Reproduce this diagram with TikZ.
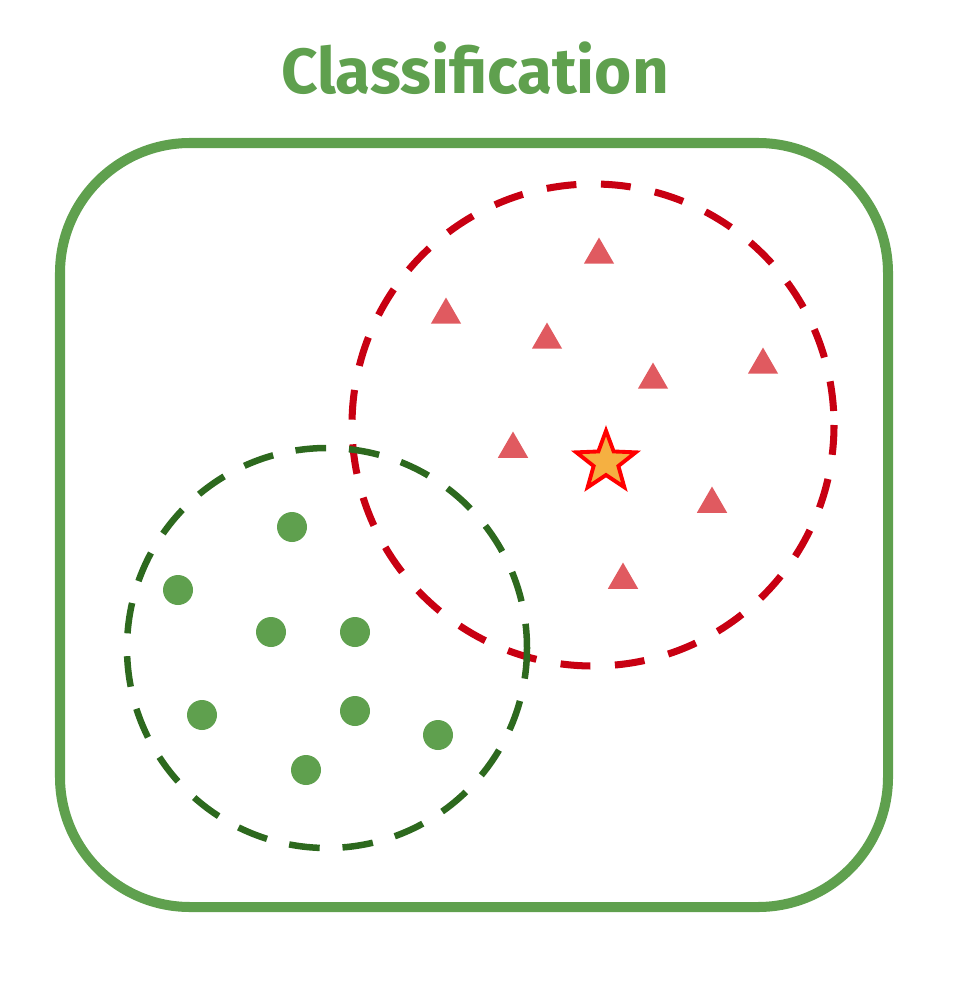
\documentclass[tikz,border=0pt]{standalone}
\usepackage{fontspec}
\setmainfont{Fira Sans}
\usetikzlibrary{shapes.geometric}

\definecolor{leafgreen}{RGB}{95,160,78}
\definecolor{darkgreen}{RGB}{45,105,30}
\definecolor{darkred}{RGB}{200,0,18}
\definecolor{softred}{RGB}{224,90,96}
\definecolor{staryellow}{RGB}{245,176,65}

\tikzset{
    classbox/.style = {draw = leafgreen, line width = 5.7pt, rounded corners = 2.6cm},
    redzone/.style = {draw = darkred, line width = 4pt, dash pattern = on 17pt off 14pt},
    greenzone/.style = {draw = darkgreen, line width = 3.7pt, dash pattern = on 17.5pt off 13pt},
    tri/.style = {regular polygon, regular polygon sides = 3, fill = softred, inner sep = 0pt, minimum size = 0.7cm},
    query/.style = {star, star points = 5, star point ratio = 2.4, fill = staryellow, draw = red, line width = 2.2pt, inner sep = 0pt, minimum size = 1.25cm}
}

\begin{document}
\begin{tikzpicture}[x = 0.02cm, y = -0.02cm]
        \useasboundingbox (0, 0) rectangle (959, 1003);

        \node [anchor = base, text = leafgreen, font = \bfseries\fontsize{36.3}{40}\selectfont] (title) at (475, 94) {Classification};

        \draw [classbox] (60, 143) rectangle (888, 907);

        \draw [redzone] (593, 425) circle [radius = 241];
        \draw [greenzone] (327, 648) circle [radius = 200];

        \fill [leafgreen]
            (292, 527) circle [radius = 15] node (d1) {}
            (178, 590) circle [radius = 15] node (d2) {}
            (271, 632) circle [radius = 15] node (d3) {}
            (355, 632) circle [radius = 15] node (d4) {}
            (202, 715) circle [radius = 15] node (d5) {}
            (355, 711) circle [radius = 15] node (d6) {}
            (438, 735) circle [radius = 15] node (d7) {}
            (306, 770) circle [radius = 15] node (d8) {}
        ;

        \node [tri] (t1) at (599, 255) {};
        \node [tri] (t2) at (446, 315) {};
        \node [tri] (t3) at (547, 340) {};
        \node [tri] (t4) at (653, 380) {};
        \node [tri] (t5) at (763, 365) {};
        \node [tri] (t6) at (513, 449) {};
        \node [tri] (t7) at (712, 504) {};
        \node [tri] (t8) at (623, 580) {};

        \node [query] (q) at (606, 462) {};
    \end{tikzpicture}
\end{document}
